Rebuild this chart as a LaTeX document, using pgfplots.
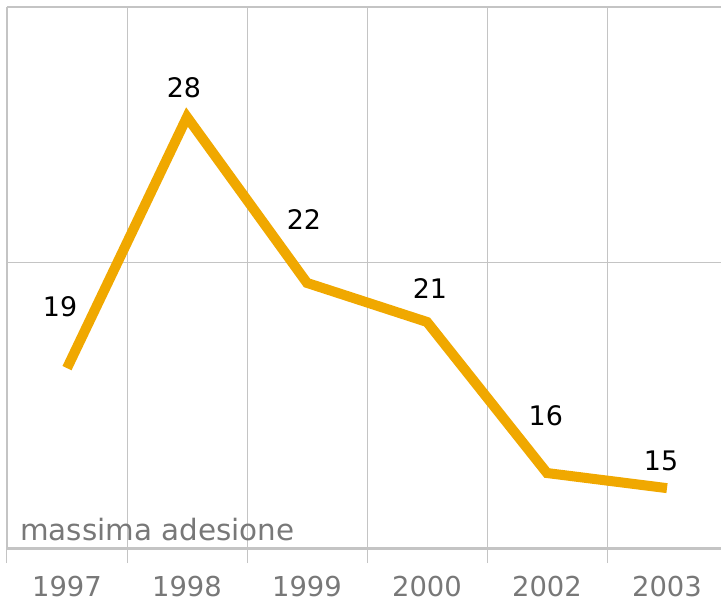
\documentclass[border=0pt]{standalone}
\usepackage{pgfplots}
\pgfplotsset{compat=1.18}
\usepackage{fontspec}
\setmainfont{DejaVu Sans}
\definecolor{lineorange}{HTML}{F0A800}
\definecolor{gridgray}{HTML}{C4C4C4}
\definecolor{textgray}{HTML}{787878}
\begin{document}
\begin{tikzpicture}[x=1bp,y=1bp]
\begin{axis}[
 at={(0,0)}, anchor=south west,
 scale only axis, width=714bp, height=541bp,
 xmin=-0.5, xmax=5.45, ymin=12.88, ymax=31.86,
 axis line style={draw=none},
 xtick={0,...,5}, xticklabels={1997,1998,1999,2000,2002,2003},
 xtick pos=lower, ytick pos=left,
 major tick length=0pt,
 minor xtick={-0.5,0.5,1.5,2.5,3.5,4.5},
 minor tick length=15bp, tick align=outside,
 xminorgrids, minor grid style={gridgray, line width=1bp},
 minor tick style={gridgray, line width=1bp},
 ytick={22.91}, yticklabels={}, ymajorgrids, major grid style={gridgray, line width=1bp},
 xticklabel style={font=\fontsize{27.5}{30}\selectfont, text=textgray, inner sep=0pt, text depth=0pt, yshift=-28bp},
 clip=false,
]
\draw[gridgray, line width=3bp] (rel axis cs:0,0) -- (rel axis cs:1,0);
\draw[gridgray, line width=2bp] (rel axis cs:0,1) -- (rel axis cs:1,1);
\draw[gridgray, line width=2bp] (rel axis cs:0,0) -- (rel axis cs:0,1);
\addplot[lineorange, line width=10bp, line join=miter, line cap=butt] coordinates {(0,19.19)(1,28)(2,22.18)(3,20.81)(4,15.51)(5,14.98)};
\node[font=\fontsize{27}{30}\selectfont] at (axis cs:-0.058,21.33) {19};
\node[font=\fontsize{27}{30}\selectfont] at (axis cs:0.975,29.02) {28};
\node[font=\fontsize{27}{30}\selectfont] at (axis cs:1.975,24.39) {22};
\node[font=\fontsize{27}{30}\selectfont] at (axis cs:3.025,22.0) {21};
\node[font=\fontsize{27}{30}\selectfont] at (axis cs:3.99,17.51) {16};
\node[font=\fontsize{27}{30}\selectfont] at (axis cs:4.95,15.93) {15};
\node[anchor=base west, inner sep=0pt, xshift=13bp, yshift=8bp, text=textgray, font=\fontsize{29.5}{31}\selectfont] at (rel axis cs:0,0) {massima adesione};
\end{axis}
\pgfresetboundingbox
\path[use as bounding box] (-7bp,-52bp) rectangle (714bp,548bp);
\end{tikzpicture}
\end{document}
